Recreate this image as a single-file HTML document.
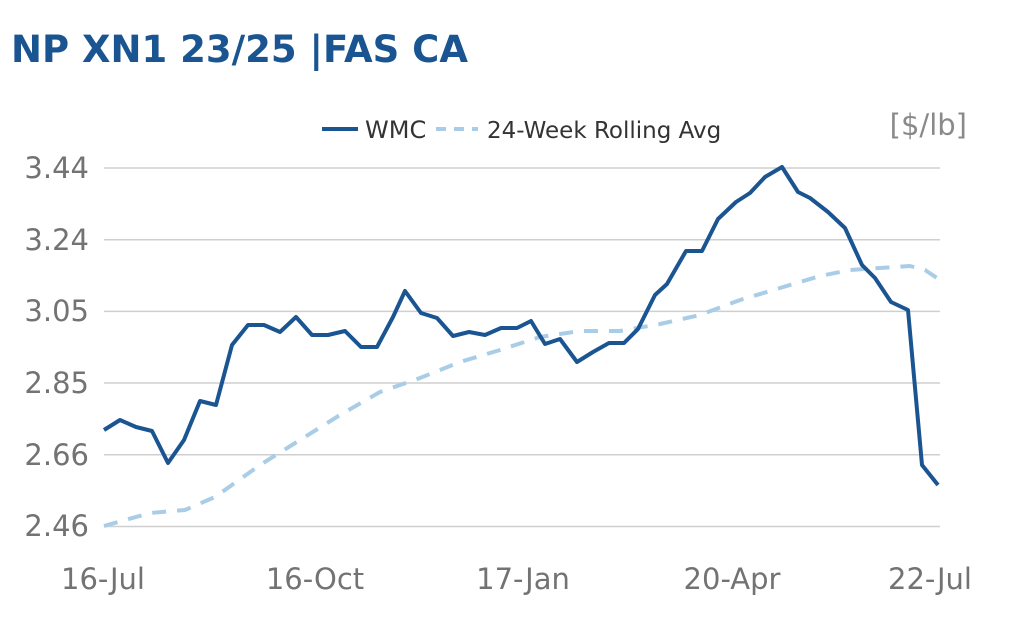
<!DOCTYPE html>
<html><head><meta charset="utf-8"><style>
html,body{margin:0;padding:0;background:#fff;width:1024px;height:641px;overflow:hidden}
svg{display:block}
</style></head><body>
<svg width="1024" height="641" xmlns="http://www.w3.org/2000/svg" font-family="'DejaVu Sans','Liberation Sans',sans-serif">
<text x="11" y="62" font-size="37" font-weight="bold" fill="#1a5592">NP XN1 23/25 |FAS CA</text>
<g stroke="#cfcfcf" stroke-width="1.5">
<line x1="104" y1="168" x2="940" y2="168"/><line x1="104" y1="239.7" x2="940" y2="239.7"/>
<line x1="104" y1="311.4" x2="940" y2="311.4"/><line x1="104" y1="383" x2="940" y2="383"/>
<line x1="104" y1="454.8" x2="940" y2="454.8"/><line x1="104" y1="526.5" x2="940" y2="526.5"/>
</g>
<g font-size="29" fill="#737373" text-anchor="end">
<text x="89" y="178">3.44</text><text x="89" y="250">3.24</text><text x="89" y="321">3.05</text>
<text x="89" y="393">2.85</text><text x="89" y="465">2.66</text><text x="89" y="536">2.46</text>
</g>
<g font-size="29" fill="#737373" text-anchor="middle">
<text x="103" y="589">16-Jul</text><text x="315" y="589">16-Oct</text><text x="523" y="589">17-Jan</text>
<text x="732" y="589">20-Apr</text><text x="930" y="589">22-Jul</text>
</g>
<text x="967" y="135" font-size="29" fill="#8a8a8a" text-anchor="end">[$/lb]</text>
<line x1="322" y1="129" x2="358" y2="129" stroke="#1a5592" stroke-width="4"/>
<text x="365" y="138" font-size="24" fill="#333">WMC</text>
<line x1="436" y1="129" x2="478" y2="129" stroke="#a9cde6" stroke-width="4" stroke-dasharray="10,8"/>
<text x="487" y="138" font-size="23" fill="#333">24-Week Rolling Avg</text>
<polyline fill="none" stroke="#a9cde6" stroke-width="4" stroke-dasharray="14,11" points="104,526 150,513 185,510 215,497 260,465 300,440 340,415 380,392 420,378 460,362 500,350 540,337 580,331 620,331 660,324 700,315 740,300 780,288 820,276 850,270 880,268 910,266 925,270 940,280"/>
<polyline fill="none" stroke="#1a5592" stroke-width="4" stroke-linejoin="round" points="104,430 120,420 136,427 152,431 168,463 184,440 200,401 216,405 232,345 248,325 264,325 280,332 296,317 312,335 328,335 345,331 361,347 377,347 393,317 405,291 421,313 437,318 453,336 469,332 485,335 501,328 517,328 531,321 545,344 560,339 577,362 593,352 609,343 624,343 638,329 655,295 667,284 686,251 702,251 718,219 736,202 750,193 765,177 782,167 798,192 810,198 828,212 845,228 862,265 875,278 891,302 908,310 922,465 938,485"/>
</svg>
</body></html>
